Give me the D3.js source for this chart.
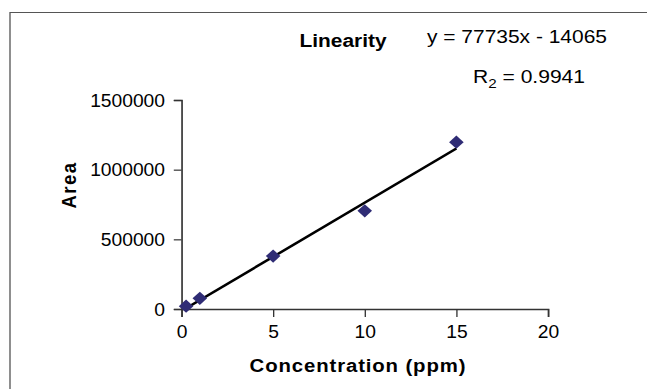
<!DOCTYPE html>
<html>
<head>
<meta charset="utf-8">
<script src="https://cdn.jsdelivr.net/npm/d3@7"></script>
<style>
  html, body { margin: 0; padding: 0; background: #fff; }
  svg { display: block; }
  text { font-family: "Liberation Sans", Arial, sans-serif; fill: #000; }
</style>
</head>
<body>
<svg id="chart"></svg>
<script>
// data
const concentration = [0.25, 1, 5, 10, 15]
const area = [20000, 77000, 380000, 705000, 1197000]
const xTicks = [0, 5, 10, 15, 20]
const yTicks = [0, 500000, 1000000, 1500000]
const slope = 77735
const intercept = -14065
const r2Label = "0.9941"

const W = 647, H = 389
// the source image is a bit stretched sideways
const SX = 1.1
const vw = W / SX

const svg = d3.select('#chart')
  .attr('width', W)
  .attr('height', H)
  .attr('viewBox', `0 0 ${vw} ${H}`)
  .attr('preserveAspectRatio', 'none')

// chart frame (only top and left edge visible)
svg.append('path')
  .attr('d', `M${10 / SX},${H} V12.5 H${vw}`)
  .attr('fill', 'none')
  .attr('stroke', '#555')
  .attr('stroke-width', 1.2)

const x = d3.scaleLinear().domain([0, 20]).range([181.5 / SX, 548 / SX])
const y = d3.scaleLinear().domain([0, 1500000]).range([309, 100])

// axes
const xAxis = svg.append('g')
  .attr('transform', `translate(0,${y(0)})`)
  .call(d3.axisBottom(x).tickValues(xTicks).tickSize(8).tickPadding(9).tickFormat(d3.format('d')))
const yAxis = svg.append('g')
  .attr('transform', `translate(${x(0)},0)`)
  .call(d3.axisLeft(y).tickValues(yTicks).tickSize(7).tickPadding(8).tickFormat(d3.format('d')))

;[xAxis, yAxis].forEach(g => {
  g.select('.domain').attr('stroke', '#333').attr('stroke-width', 1.5)
  g.selectAll('.tick line').attr('stroke', '#333').attr('stroke-width', 1.2)
  g.selectAll('.tick text')
    .style('font-family', '"Liberation Sans", Arial, sans-serif')
    .style('font-size', '17.5px')
    .attr('fill', '#000')
})
yAxis.selectAll('.tick text').attr('dy', '0.36em')

// trendline from the regression equation
const trend = d3.line()
  .x(d => x(d))
  .y(d => y(slope * d + intercept))
svg.append('path')
  .attr('d', trend([concentration[0], concentration[concentration.length - 1]]))
  .attr('fill', 'none')
  .attr('stroke', '#000')
  .attr('stroke-width', 2.5)

// diamond markers
const diamond = d3.symbol().type(d3.symbolSquare).size(88)
svg.selectAll('.pt')
  .data(concentration.map((c, i) => [c, area[i]]))
  .enter()
  .append('path')
  .attr('class', 'pt')
  .attr('d', diamond)
  .attr('transform', d => `translate(${x(d[0])},${y(d[1])}) rotate(45)`)
  .attr('fill', '#2f2c75')

// titles
svg.append('text')
  .attr('x', 343 / SX)
  .attr('y', 47)
  .attr('text-anchor', 'middle')
  .style('font-size', '19px')
  .style('font-weight', 'bold')
  .text('Linearity')

svg.append('text')
  .attr('x', 427 / SX)
  .attr('y', 43)
  .attr('textLength', 180 / SX)
  .attr('lengthAdjust', 'spacingAndGlyphs')
  .style('font-size', '18px')
  .text(`y = ${slope}x - ${Math.abs(intercept)}`)

const r2 = svg.append('text')
  .attr('x', 473 / SX)
  .attr('y', 83)
  .attr('textLength', 112 / SX)
  .attr('lengthAdjust', 'spacingAndGlyphs')
  .style('font-size', '18px')
r2.append('tspan').text('R')
r2.append('tspan').attr('dy', 5).style('font-size', '13px').text('2')
r2.append('tspan').attr('dy', -5).text(` = ${r2Label}`)

svg.append('text')
  .attr('x', 358 / SX)
  .attr('y', 372)
  .attr('text-anchor', 'middle')
  .style('font-size', '18.5px')
  .style('font-weight', 'bold')
  .style('letter-spacing', '0.8px')
  .text('Concentration (ppm)')

svg.append('text')
  .attr('transform', `translate(${76 / SX},185) rotate(-90)`)
  .attr('text-anchor', 'middle')
  .style('font-size', '18.5px')
  .style('font-weight', 'bold')
  .style('letter-spacing', '1.5px')
  .text('Area')
</script>
</body>
</html>
